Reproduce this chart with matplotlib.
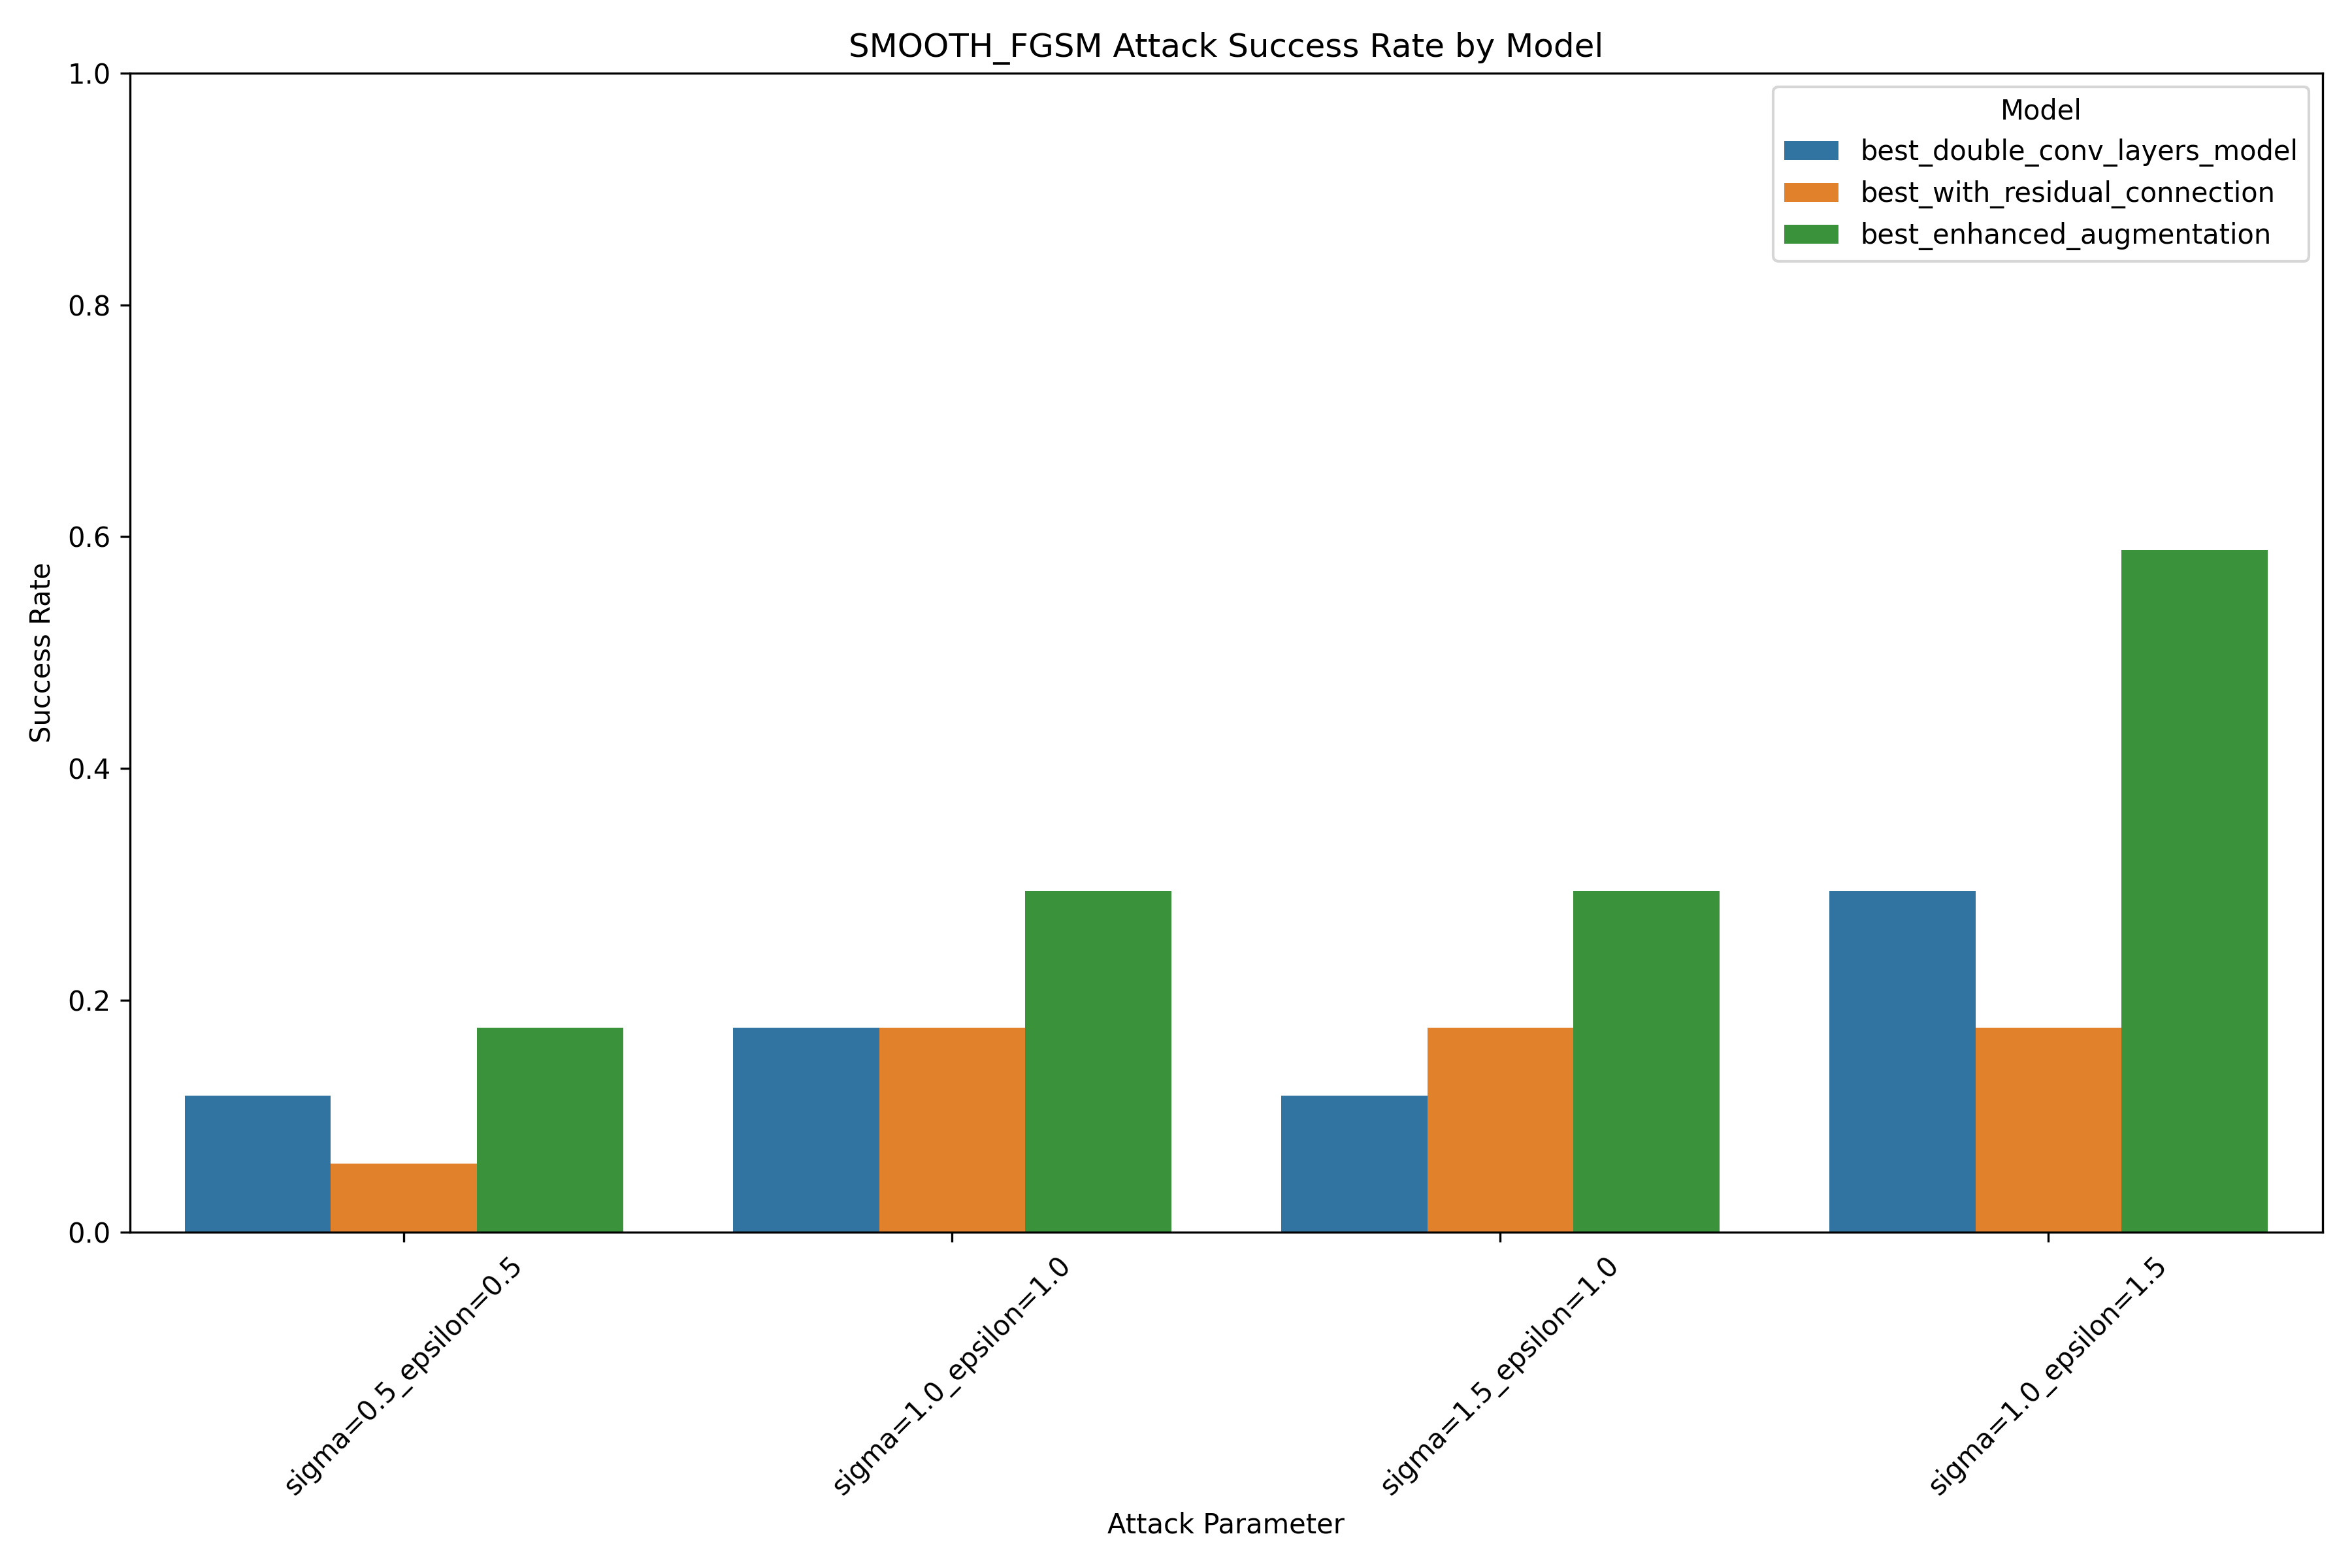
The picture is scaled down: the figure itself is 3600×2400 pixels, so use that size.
import pandas as pd
import seaborn as sns
import matplotlib
matplotlib.use("Agg")
import matplotlib.pyplot as plt

# Attack parameters and success rates per model
params = ["sigma=0.5_epsilon=0.5", "sigma=1.0_epsilon=1.0",
          "sigma=1.5_epsilon=1.0", "sigma=1.0_epsilon=1.5"]
models = ["best_double_conv_layers_model", "best_with_residual_connection",
          "best_enhanced_augmentation"]
double_conv = [2 / 17, 3 / 17, 2 / 17, 5 / 17]
residual = [1 / 17, 3 / 17, 3 / 17, 3 / 17]
enhanced = [3 / 17, 5 / 17, 5 / 17, 10 / 17]

rows = []
for m, vals in zip(models, [double_conv, residual, enhanced]):
    for p, v in zip(params, vals):
        rows.append({"Attack Parameter": p, "Success Rate": v, "Model": m})
df = pd.DataFrame(rows)

plt.figure(figsize=(12, 8))
ax = sns.barplot(data=df, x="Attack Parameter", y="Success Rate", hue="Model",
                 order=params, hue_order=models)
plt.title("SMOOTH_FGSM Attack Success Rate by Model")
plt.ylim(0, 1)
plt.xticks(rotation=45)
plt.legend(title="Model", loc="upper right")
plt.tight_layout()
plt.savefig("out.png", dpi=300)
